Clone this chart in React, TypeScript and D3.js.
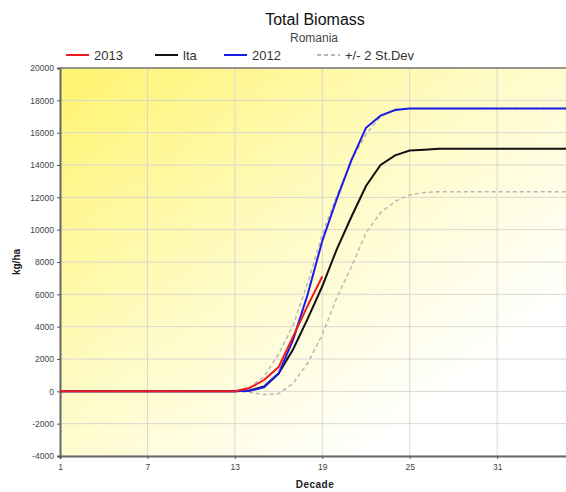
import * as d3 from "d3";
import { useEffect, useRef } from "react";

const decades = d3.range(1, 37);
const flat = (n: number, v: number) => Array(n).fill(v);

// kg/ha per decade
const y2013 = [...flat(12, 0), 0, 200, 700, 1500, 3400, 5300, 7100];
const lta = [...flat(12, 0), 0, 50, 300, 1100, 2600, 4500, 6500, 8800, 10800, 12700, 14000, 14600, 14900, 14950, ...flat(10, 15000)];
const y2012 = [...flat(12, 0), 0, 30, 250, 1100, 3200, 6000, 9300, 11900, 14300, 16300, 17050, 17400, 17500, 17500, ...flat(10, 17500)];
const upper = [...flat(12, 0), 0, 250, 900, 2300, 4100, 6700, 9700, 12100, 14300, 15900, 17000, 17450, 17500, 17500, ...flat(10, 17500)];
const lower = [...flat(12, 0), 0, -50, -200, -150, 500, 1750, 3500, 5800, 7700, 9800, 11050, 11750, 12150, 12300, ...flat(10, 12350)];

const yTicks = d3.range(-4000, 20001, 2000);
const xTicks = [1, 7, 13, 19, 25, 31];

const legendItems = [
  { label: "2013", color: "#ee1c1c", dash: "", x: 66 },
  { label: "lta", color: "#111", dash: "", x: 155 },
  { label: "2012", color: "#1c1ce8", dash: "", x: 224 },
  { label: "+/- 2 St.Dev", color: "#b8b8b8", dash: "4,3", x: 317 },
];

const W = 566;
const H = 492;
const m = { left: 60, top: 68, right: 570, bottom: 456 };

export default function App() {
  const ref = useRef<SVGSVGElement | null>(null);

  useEffect(() => {
    const svg = d3.select(ref.current);
    svg.selectAll("*").remove();

    const x = d3.scaleLinear().domain([1, 36]).range([m.left, m.right]);
    const y = d3.scaleLinear().domain([-4000, 20000]).range([m.bottom, m.top]);

    const defs = svg.append("defs");
    const grad = defs
      .append("linearGradient")
      .attr("id", "bg")
      .attr("x1", "0%")
      .attr("y1", "0%")
      .attr("x2", "100%")
      .attr("y2", "100%");
    grad.append("stop").attr("offset", "0%").attr("stop-color", "#fff46e");
    grad.append("stop").attr("offset", "45%").attr("stop-color", "#fffbc8");
    grad.append("stop").attr("offset", "80%").attr("stop-color", "#ffffff");

    svg
      .append("rect")
      .attr("x", m.left)
      .attr("y", m.top)
      .attr("width", m.right - m.left)
      .attr("height", m.bottom - m.top)
      .attr("fill", "url(#bg)");

    // grid
    svg
      .append("g")
      .selectAll("line")
      .data(yTicks)
      .join("line")
      .attr("x1", m.left)
      .attr("x2", m.right)
      .attr("y1", (d) => y(d))
      .attr("y2", (d) => y(d))
      .attr("stroke", "#d8d8d0")
      .attr("stroke-width", 1);
    svg
      .append("g")
      .selectAll("line")
      .data(xTicks.slice(1))
      .join("line")
      .attr("x1", (d) => x(d))
      .attr("x2", (d) => x(d))
      .attr("y1", m.top)
      .attr("y2", m.bottom)
      .attr("stroke", "#d8d8d0")
      .attr("stroke-width", 1);

    // axes
    const yAxis = svg
      .append("g")
      .attr("transform", `translate(${m.left},0)`)
      .call(d3.axisLeft(y).tickValues(yTicks).tickSize(3).tickFormat((d) => String(d)));
    const xAxis = svg
      .append("g")
      .attr("transform", `translate(0,${m.bottom})`)
      .call(d3.axisBottom(x).tickValues(xTicks).tickSize(3).tickFormat((d) => String(d)));
    [yAxis, xAxis].forEach((g) => {
      g.select(".domain").attr("stroke", "#666").attr("stroke-width", 2);
      g.selectAll(".tick line").attr("stroke", "#555");
      g.selectAll(".tick text")
        .attr("fill", "#444")
        .attr("font-family", "Arial, 'Liberation Sans', sans-serif")
        .attr("font-size", 8.5);
    });
    xAxis.selectAll(".tick text").attr("dy", "0.9em");

    // top border
    svg
      .append("line")
      .attr("x1", m.left)
      .attr("x2", m.right)
      .attr("y1", m.top)
      .attr("y2", m.top)
      .attr("stroke", "#777")
      .attr("stroke-width", 1.5);

    const line = d3
      .line<number>()
      .x((_, i) => x(decades[i]))
      .y((d) => y(d));

    const series = [
      { data: lower, color: "#b8b8b8", dash: "4,3", w: 1.5 },
      { data: upper, color: "#b8b8b8", dash: "4,3", w: 1.5 },
      { data: lta, color: "#111", dash: "", w: 2 },
      { data: y2012, color: "#1c1ce8", dash: "", w: 2 },
      { data: y2013, color: "#ee1c1c", dash: "", w: 2 },
    ];
    svg
      .append("g")
      .selectAll("path")
      .data(series)
      .join("path")
      .attr("d", (d) => line(d.data))
      .attr("fill", "none")
      .attr("stroke", (d) => d.color)
      .attr("stroke-width", (d) => d.w)
      .attr("stroke-dasharray", (d) => d.dash);

    // titles
    const font = "Arial, 'Liberation Sans', sans-serif";
    svg
      .append("text")
      .attr("x", 315)
      .attr("y", 25)
      .attr("text-anchor", "middle")
      .attr("font-family", font)
      .attr("font-size", 16)
      .attr("fill", "#111")
      .text("Total Biomass");
    svg
      .append("text")
      .attr("x", 314)
      .attr("y", 42)
      .attr("text-anchor", "middle")
      .attr("font-family", font)
      .attr("font-size", 12)
      .attr("fill", "#444")
      .text("Romania");
    svg
      .append("text")
      .attr("transform", `translate(20,${(m.top + m.bottom) / 2}) rotate(-90)`)
      .attr("text-anchor", "middle")
      .attr("font-family", font)
      .attr("font-weight", "bold")
      .attr("font-size", 10)
      .attr("fill", "#222")
      .text("kg/ha");
    svg
      .append("text")
      .attr("x", 315)
      .attr("y", 488)
      .attr("text-anchor", "middle")
      .attr("font-family", font)
      .attr("font-weight", "bold")
      .attr("font-size", 10)
      .attr("letter-spacing", 0.5)
      .attr("fill", "#222")
      .text("Decade");

    // legend
    const lg = svg
      .append("g")
      .selectAll("g")
      .data(legendItems)
      .join("g")
      .attr("transform", (d) => `translate(${d.x},55)`);
    lg.append("line")
      .attr("x1", 0)
      .attr("x2", 23)
      .attr("stroke", (d) => d.color)
      .attr("stroke-width", 2)
      .attr("stroke-dasharray", (d) => d.dash);
    lg.append("text")
      .attr("x", 28)
      .attr("y", 5)
      .attr("font-family", font)
      .attr("font-size", 13)
      .attr("fill", "#333")
      .text((d) => d.label);
  }, []);

  return (
    <svg
      ref={ref}
      width={W}
      height={H}
      style={{ position: "absolute", left: 0, top: 0, background: "#fff" }}
    ></svg>
  );
}
